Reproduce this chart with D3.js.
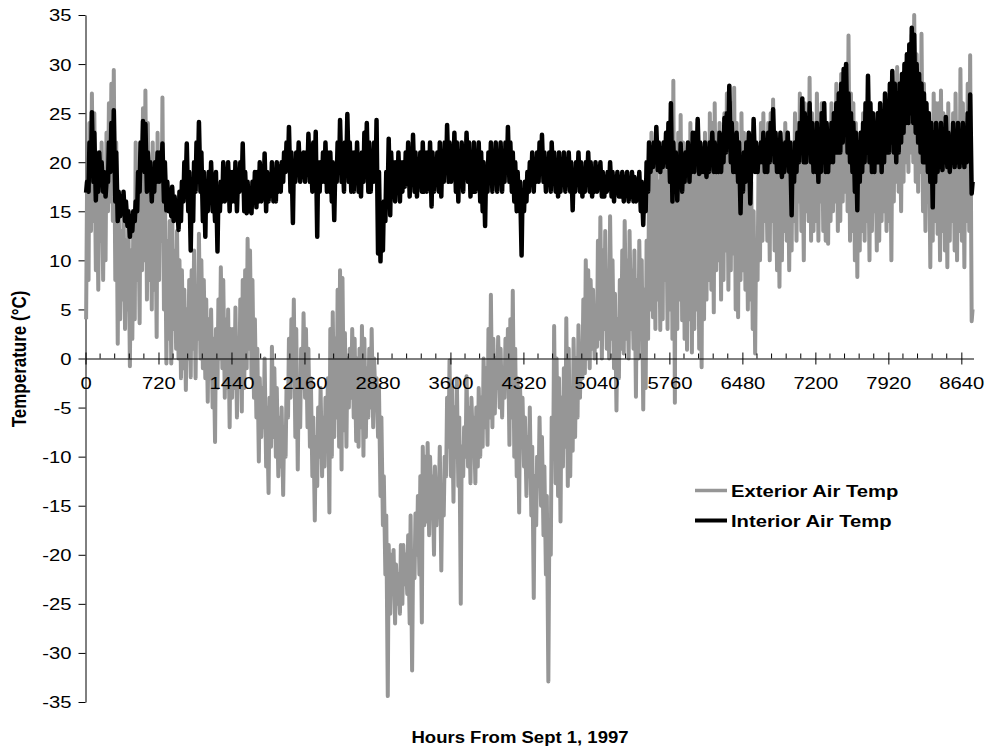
<!DOCTYPE html>
<html>
<head>
<meta charset="utf-8">
<script src="https://cdn.jsdelivr.net/npm/d3@7"></script>
<style>
  body { margin: 0; background: #fff; }
  text { font-family: "Liberation Sans", Arial, sans-serif; fill: #000; }
</style>
</head>
<body>
<svg id="chart" width="989" height="751"></svg>
<script>
// Daily extremes, one value per day starting Sept 1, 1997 (°C)
const extHigh = [
  17, 24, 27, 25, 21, 19, 22, 18, 23, 26,
  28, 29.4, 22, 16, 13, 15, 12, 14, 11, 13,
  22, 18, 21, 25.5, 27.3, 24, 20, 22, 19, 23,
  20, 26.6, 18, 12, 14, 15, 11, 13, 10, 9,
  7, 5, 8, 9, 11, 7, 12.7, 10, 8, 6,
  4, 5, 2, 3, 6, 9.3, 8, 4, 5, 3,
  3, 5.2, 2, 6, 8, 9, 12.2, 11, 8, 4,
  1, -2, -3, 0, -5, -4, 1.2, -1, -3, -6,
  -5, -7, -3, 2, 4, 6, 3, -2, 1, 4.6,
  3, 1, -2, -6, -8, -5, -3, -6, -4, -2,
  3, 4.7, 2, 7, 9, 8.2, 2.6, 0, 1, 3,
  2, 0, 1, 3.3, 2, -1, 1, 3, 0, -2,
  -3, -6, -12, -16, -19, -20, -19.5, -21, -22, -19,
  -19, -20, -18, -16, -21, -15.8, -14, -12, -9, -10,
  -8.6, -10, -12, -11, -14, -9, -13, -10, -4, -0.2,
  -3, -5, -2, -6, -9, -7, -1.8, -5, -4, -6,
  -5, -3, -4, 0, -1, 3, 6.5, 2, 0, 2.2,
  1, -1, 2, 3, 4, 6.9, 1, -2, -3, -4,
  -6, -8, -5, -9, -12, -10, -6, -8, -11, -14,
  -18, -6, 3.3, 0, -2, -4, -1, 4.1, 1, -3,
  2, 0, 3.4, 1, 6, 10, 9, 8, 7, 5,
  12, 14.4, 11, 13, 9, 14.5, 10, 6.6, 4, 8,
  11, 14, 10, 13, 9, 11, 8, 12, 10, 7,
  12, 18, 23, 20.9, 22, 18, 21, 22, 19, 24,
  26, 28.3, 20, 23, 24.8, 22, 18, 20, 24, 23,
  22, 24, 21, 20, 23, 22, 25, 24, 26, 23,
  24, 22, 25, 27, 23, 26, 27.6, 24, 22, 25,
  23, 21, 20, 18, 15, 12, 19, 24, 25, 22,
  24, 25, 26.4, 23, 21, 22, 20, 24, 23, 21,
  22, 25, 24, 27, 23, 26, 24, 28.6, 25, 24,
  27, 25, 26, 24, 22, 23, 26, 25, 28, 27,
  29, 28, 30, 32.9, 27, 26, 24, 22, 23, 25,
  24, 23, 25, 21, 24, 22, 23, 25, 24, 26,
  27, 24, 28, 29.7, 27, 26, 29, 30, 32, 33,
  35, 31, 29, 33.1, 28, 26, 25, 23, 27, 26,
  26, 27.3, 25, 24, 26, 23, 25, 27, 24, 29.5,
  26, 24, 28, 30.9, 5
];
const extLow = [
  4, 8, 13, 14, 9, 7, 12, 8, 10, 15,
  16, 14, 8, 1.5, 4, 6, 3, 5, -0.8, 2,
  4, 8, 3.6, 9, 10, 6, 8, 5, 7, 2.2,
  8, 12, 5, -0.5, 2, -0.5, 3, 1, 0, -2,
  -1, -3.2, 0, -1.9, 1, -2, 2, 0, -1, -2,
  -4.4, -2, -5, -8.5, -3, 0, -1, -4, -3, -7,
  -4, -3, -6, -2, -5.4, -3, -1, 1, -2, -4,
  -6, -10.5, -8, -7, -11, -13.7, -9, -8, -10, -12,
  -11, -13.9, -10, -6, -4, -2, -8, -11.3, -7, -3,
  -4, -7, -9, -12, -16.5, -13, -10, -12, -11, -9,
  -15.7, -10, -8, -6, -9, -11.3, -7.3, -9, -5, -4,
  -6, -8.4, -9, -7, -9.9, -8, -6, -5, -7, -4.8,
  -8, -14, -17, -22, -34.4, -26, -24, -27, -25, -26,
  -25, -23, -24, -27, -31.8, -22.4, -20, -22, -26.9, -17,
  -16.6, -18, -15, -20, -17, -14, -21.6, -16, -12, -9,
  -12, -14.6, -10, -13, -25, -12, -10, -11, -12.7, -9,
  -12.7, -11, -10, -9, -7, -8.8, -6, -7, -5.6, -3,
  -5, -6, -4, -3, -8.8, -6, -10, -12, -15.7, -9,
  -11, -14, -12, -16, -24.4, -17, -13, -15, -18, -22,
  -32.9, -20, -10, -12.7, -14, -16.6, -11, -9, -13, -12,
  -9.4, -8, -6, -4, -2, -1.5, 0, -1, 1, 0,
  1.2, 2, 0, 3, 1, 0, 2, -1, -5.3, -2,
  1, 0.5, 2, 0, 3, 1, -3.9, 0, 2, -5.2,
  -3, 2, 5, 4.2, 3, 6, 2.9, 4, 8, 3,
  5, 2, -4.5, 3, 6, 3.9, 2, 0.9, 4, 0.6,
  3, 5, 1, -0.9, 4, 6, 8, 7, 4.7, 9,
  10, 6, 8, 11, 7, 9, 10.7, 5, 4.2, 8,
  9, 7, 5, 6, 3, 0.5, 8, 10, 12, 14,
  12, 10, 14, 11, 9, 7.3, 10, 13, 12, 9,
  11, 14, 12, 16, 13, 10, 15, 14, 12, 13,
  14, 12, 16, 13, 12, 11.7, 14, 15, 16, 13,
  14, 16, 17, 15, 12, 13, 10, 8.3, 11, 13,
  12, 14, 10, 13, 15, 11, 12, 14, 15, 13,
  14, 10, 16, 18, 17, 15, 18, 20, 19, 21,
  20, 18, 17, 19, 15, 13, 16, 9.3, 12, 14,
  12.7, 10, 13, 11, 9.3, 12, 14, 11, 10, 13,
  12, 9.3, 14, 13, 3.8
];
const intHigh = [
  18, 22, 25.1, 23, 19, 21, 20, 19, 18, 22,
  24, 25.3, 21, 17, 16.5, 17, 16, 15, 14.5, 15,
  16, 19, 22, 24.2, 23.9, 21, 20, 19, 20, 21,
  21, 21.9, 20, 18, 17, 17.5, 16.5, 16, 17, 18,
  20, 21.9, 19, 17, 20, 22, 24.1, 21, 19, 18,
  19, 20, 18, 19, 17, 18, 20, 19, 20, 19,
  19, 20, 18, 20, 21.9, 19, 18, 17, 18, 19,
  19, 20, 18, 20.9, 19, 18, 20, 19, 20, 19.5,
  20, 21, 22, 23.6, 21, 20, 21, 22, 20, 21,
  21, 22.9, 21, 22, 23.1, 20, 20, 21, 22, 21,
  21, 20, 19, 22, 24.3, 21, 22, 24.9, 22, 21,
  21, 22, 20, 21, 23, 24, 22, 21, 22, 24.3,
  19, 15, 16, 19, 22.4, 21, 20, 20, 21, 20,
  20, 21, 22, 21, 22.8, 21, 20, 21, 22, 21,
  21, 22, 21, 20, 21, 22, 21, 22, 23.8, 22,
  21, 23, 22, 21, 22, 21, 23, 22, 21, 22,
  21, 22, 21, 20, 19, 21, 22, 21, 22, 21,
  22, 21, 22, 23.6, 22, 21, 20, 19, 18, 17,
  18, 19, 20, 21, 20, 21, 22, 22.8, 21, 20,
  21, 22, 21, 20, 21, 20, 21, 20, 21, 20,
  19, 20, 21, 20, 19, 20, 21, 20, 19, 20,
  19.5, 20, 19, 18.5, 19, 20, 19, 18.5, 19, 18.5,
  19, 18.5, 19, 18, 19, 18.5, 18, 19, 18, 17,
  20, 22, 21.5, 22, 23.6, 22, 21, 22, 23, 24,
  26, 22, 21, 20, 21.9, 20, 21, 22, 21, 23,
  23, 24.4, 22, 21, 22, 21, 22, 23, 22, 21,
  23, 22, 24.5, 25, 27.8, 24, 22, 23, 22, 20,
  21, 22, 23, 20, 24.4, 22, 21, 22, 23, 22,
  23, 24, 25.4, 23, 22, 23, 21, 22, 23, 22,
  21, 22, 23, 24, 26.5, 25, 24, 26, 24, 23,
  24, 23, 25, 26, 24, 23, 24, 25, 26, 27,
  28, 29.5, 30, 27, 25, 24, 23, 22, 23, 24,
  26, 28.8, 26, 25, 24, 25, 26, 25, 27, 26,
  28, 29.3, 28, 27, 28, 29, 30, 31, 32, 33.7,
  33, 30, 29, 28, 27, 26, 25, 24, 23, 24,
  23, 24, 23, 24.6, 23, 22, 24, 23, 24, 23,
  24, 23, 25, 26.9, 18
];
const intLow = [
  16.9, 17, 19, 18, 16.1, 17, 18, 17, 16.5, 18,
  19, 20, 16, 14, 14.5, 15, 14, 13.5, 12.4, 13,
  14, 15, 17, 20, 19, 17, 18, 16, 17, 18,
  18, 19, 16, 15.1, 15, 14.5, 14, 14.5, 13.1, 14,
  16, 18, 15, 11, 14, 17, 19, 17, 14, 12.4,
  15, 16, 15, 14, 10.9, 15, 16, 16, 17, 15,
  16, 16, 15, 17, 18, 15, 14.8, 15, 14.8, 16,
  15.4, 16, 16, 17, 15, 16, 17, 16, 16, 17,
  17, 18, 19, 19.5, 17, 13.8, 18, 19, 18, 19,
  18, 19, 18, 17, 19, 12.4, 17, 18, 18, 17,
  17, 16, 14.1, 18, 19, 18, 17, 20, 18, 17,
  17, 18, 17, 16.5, 18, 19, 17, 17, 18, 18,
  10.7, 9.9, 11, 14, 17, 14.6, 17, 16, 17, 16,
  17, 17.5, 18, 16.5, 18, 17, 16.5, 18, 17, 17,
  17, 18, 15.5, 17, 18, 17, 16.5, 18, 19, 18,
  18, 19, 17, 16, 18, 17, 19, 18, 16.5, 17,
  17, 18, 16, 15, 13.5, 17, 18, 17, 18, 17,
  18, 17, 18, 19, 18, 17, 16, 15, 15, 10.5,
  15, 16, 17, 18, 17, 18, 18, 19, 18, 17,
  18, 17, 18, 17, 16.5, 17, 18, 17, 18, 17,
  15.1, 17, 18, 17, 16.5, 17, 18, 17, 16.5, 17,
  17, 17.5, 16.5, 16.5, 17, 17.5, 16.5, 16, 17, 16.5,
  16.5, 16, 17, 16, 16.5, 16, 16, 17, 15, 13.6,
  15, 17, 19, 19.5, 20, 19.2, 19, 19.5, 20, 19.5,
  18, 16, 17, 16.1, 18, 17, 18, 19, 18, 19,
  19, 20, 18.8, 19, 19, 18.5, 19, 20, 19, 19,
  19, 19, 20, 21, 22, 20, 19, 19, 18, 14.8,
  17, 18, 19, 15.8, 20, 19, 19, 20, 20, 19,
  19, 20, 21, 20, 19, 19, 18.5, 19, 20, 19,
  14.6, 18, 19, 20, 21, 20, 20, 21, 20, 19,
  19, 18, 19, 20, 19, 19, 20, 20, 21, 21,
  21, 22, 23, 21, 20, 19, 17, 15.1, 18, 19,
  20, 21, 20, 19, 19, 20, 20, 19, 20, 21,
  21, 22, 21, 20, 21, 22, 23, 24, 24, 25,
  24, 23, 22, 21, 20, 20, 19, 18, 15.4, 18,
  19, 19.5, 19.2, 20, 19.5, 19, 20, 19.5, 20, 19.5,
  20, 19.5, 20, 21, 16.8
];

// Axis ticks and labels
const xTicks = [0, 720, 1440, 2160, 2880, 3600, 4320, 5040, 5760, 6480, 7200, 7920, 8640];
const xMinorStep = 144;
const yTicks = [-35, -30, -25, -20, -15, -10, -5, 0, 5, 10, 15, 20, 25, 30, 35];
const seriesNames = ["Exterior Air Temp", "Interior Air Temp"];
const seriesColors = ["#969696", "#000000"];
const seriesWidths = [4, 4.5];

// hour of day at which the daily low and high are placed
const lowHour = 6, highHour = 15;
const stretch = 1.19; // horizontal glyph stretch used for labels
const titleStretch = 1.09;
const plainNumber = d => String(d); // ASCII hyphen for negatives

const svg = d3.select("#chart");
const x = d3.scaleLinear().domain([0, 8760]).range([85.5, 973.5]);
const y = d3.scaleLinear().domain([-35, 35]).range([702, 15]);

function dailyPoints(lo, hi) {
  return lo.flatMap((l, i) => [
    { h: i * 24 + lowHour, v: l },
    { h: i * 24 + highHour, v: hi[i] }
  ]);
}

const line = d3.line().x(d => x(d.h)).y(d => y(d.v));

// Y axis
const gy = svg.append("g").attr("transform", "translate(85.5,0)")
  .call(d3.axisLeft(y).tickValues(yTicks).tickSize(7).tickSizeOuter(0).tickFormat(plainNumber));
gy.select(".domain").attr("stroke", "#000");
gy.selectAll(".tick line").attr("stroke", "#000");
gy.selectAll(".tick text")
  .attr("x", null).attr("dy", "0.35em")
  .attr("transform", `translate(-14,0) scale(${stretch},1)`)
  .attr("font-size", 17).attr("font-family", "Liberation Sans, Arial, sans-serif");

// Series lines (exterior first, interior on top)
const series = [dailyPoints(extLow, extHigh), dailyPoints(intLow, intHigh)];
series.forEach((pts, i) => {
  svg.append("path")
    .datum(pts)
    .attr("d", line)
    .attr("fill", "none")
    .attr("stroke", seriesColors[i])
    .attr("stroke-width", seriesWidths[i])
    .attr("stroke-linejoin", "round");
});

// X axis along the zero line
const gx = svg.append("g").attr("transform", `translate(0,${y(0)})`)
  .call(d3.axisBottom(x).tickValues(xTicks).tickSize(6).tickSizeOuter(0).tickFormat(plainNumber));
gx.select(".domain").attr("stroke", "#000");
gx.selectAll(".tick line").attr("stroke", "#000").attr("y1", -6).attr("y2", 6);
gx.selectAll(".tick text")
  .attr("y", null).attr("dy", null)
  .attr("transform", `translate(0,30.5) scale(${stretch},1)`)
  .attr("font-size", 17).attr("font-family", "Liberation Sans, Arial, sans-serif");

const minorTicks = d3.range(0, 8760, xMinorStep).filter(h => !xTicks.includes(h));
gx.selectAll(".minor").data(minorTicks).join("line")
  .attr("class", "minor")
  .attr("x1", d => x(d)).attr("x2", d => x(d))
  .attr("y1", -5).attr("y2", 0)
  .attr("stroke", "#000");

// Axis titles
svg.append("text")
  .attr("transform", `translate(26,359) rotate(-90) scale(1,${stretch})`)
  .attr("text-anchor", "middle")
  .attr("font-size", 17).attr("font-weight", "bold")
  .text("Temperature (°C)");

svg.append("text")
  .attr("transform", `translate(520,743) scale(${titleStretch},1)`)
  .attr("text-anchor", "middle")
  .attr("font-size", 17).attr("font-weight", "bold")
  .text("Hours From Sept 1, 1997");

// Legend
const legend = svg.append("g");
seriesNames.forEach((name, i) => {
  const ly = 490.5 + i * 30;
  legend.append("line")
    .attr("x1", 695).attr("x2", 727).attr("y1", ly).attr("y2", ly)
    .attr("stroke", seriesColors[i]).attr("stroke-width", seriesWidths[i] - 0.5);
  legend.append("text")
    .attr("transform", `translate(731,${ly + 6}) scale(${stretch},1)`)
    .attr("font-size", 17).attr("font-weight", "bold")
    .text(name);
});
</script>
</body>
</html>
